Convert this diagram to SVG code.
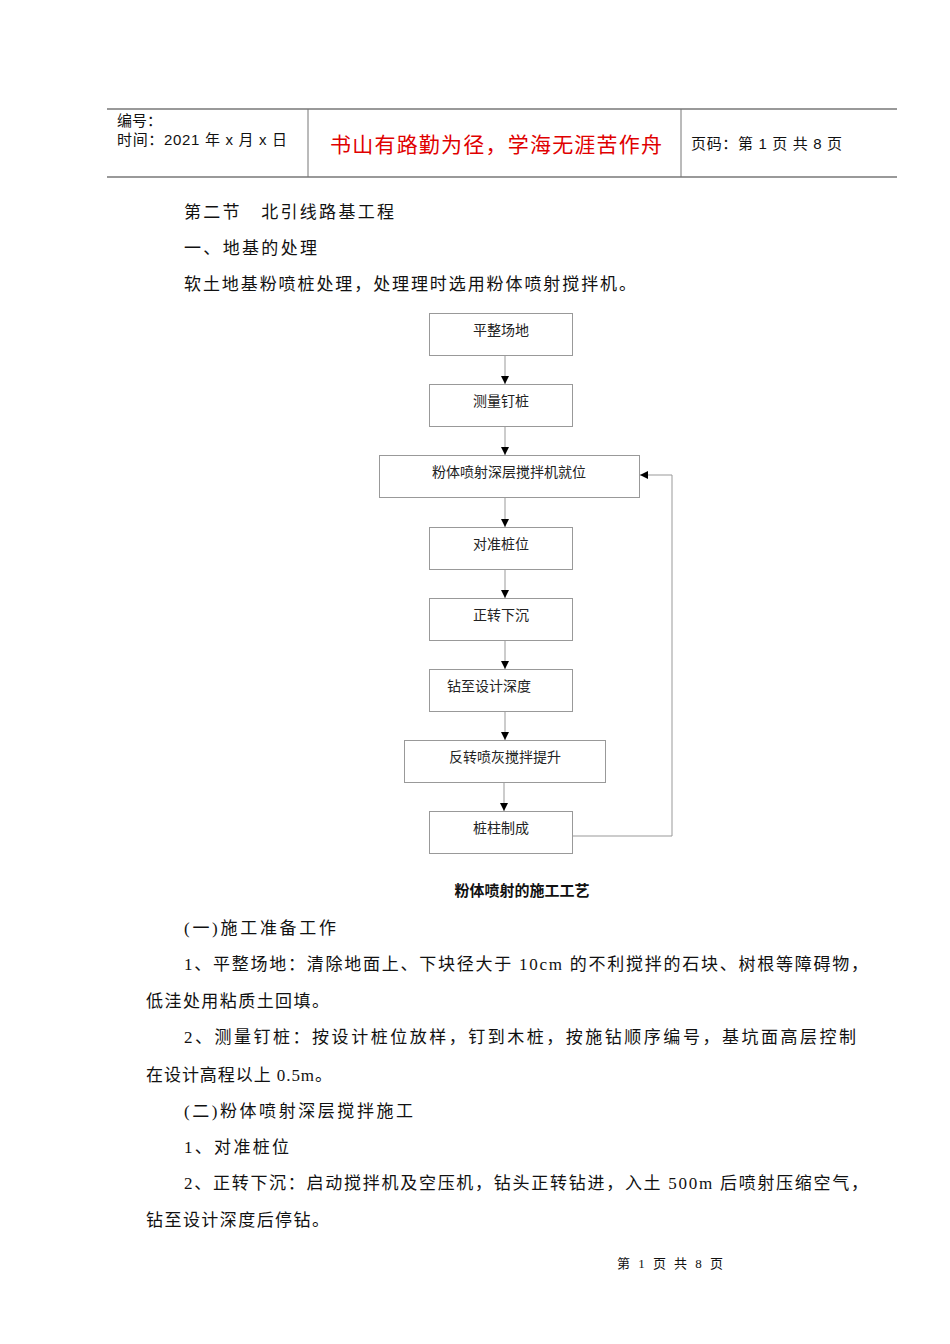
<svg xmlns="http://www.w3.org/2000/svg" width="950" height="1344" viewBox="0 0 950 1344">
<style>
.b{font-family:"Liberation Serif","Noto Sans CJK SC",serif;font-size:17px;fill:#111}
.n{fill:#fff;stroke:#999;stroke-width:1}
.nt{font-family:"Liberation Serif","Noto Sans CJK SC",serif;font-size:14px;fill:#222;text-anchor:middle}
.c{stroke:#999;stroke-width:1;fill:none}
.h{font-family:"Liberation Sans","Noto Sans CJK SC",sans-serif;font-size:15px;fill:#111}
</style>
<defs><marker id="a" markerWidth="8" markerHeight="8" refX="8" refY="4" orient="auto" markerUnits="userSpaceOnUse"><path d="M0,0L8,4L0,8z" fill="#000"/></marker></defs>
<rect width="950" height="1344" fill="#fff"/>
<g id="header">
<line x1="107" y1="109" x2="897" y2="109" stroke="#777" stroke-width="1.5"/>
<line x1="107" y1="177" x2="897" y2="177" stroke="#777" stroke-width="1.5"/>
<line x1="308" y1="109" x2="308" y2="177" stroke="#777"/>
<line x1="681" y1="109" x2="681" y2="177" stroke="#777"/>
<text class="h" x="117" y="126">编号：</text>
<text class="h" x="117" y="145" textLength="170">时间：2021 年 x 月 x 日</text>
<text x="330" y="152" textLength="332" font-family="Liberation Sans,'Noto Sans CJK SC',sans-serif" font-size="21" fill="#e00000">书山有路勤为径，学海无涯苦作舟</text>
<text class="h" x="691" y="149" textLength="151">页码：第 1 页  共 8 页</text>
</g>
<g id="text-top">
<text class="b" x="184" y="218" textLength="210">第二节　北引线路基工程</text>
<text class="b" x="184" y="254" textLength="133">一、地基的处理</text>
<text class="b" x="184" y="290" textLength="452">软土地基粉喷桩处理，处理理时选用粉体喷射搅拌机。</text>
</g>
<g id="connectors">
<line class="c" x1="505" y1="355" x2="505" y2="384" marker-end="url(#a)"/>
<line class="c" x1="505" y1="426" x2="505" y2="455" marker-end="url(#a)"/>
<line class="c" x1="505" y1="497" x2="505" y2="527" marker-end="url(#a)"/>
<line class="c" x1="505" y1="569" x2="505" y2="598" marker-end="url(#a)"/>
<line class="c" x1="505" y1="640" x2="505" y2="669" marker-end="url(#a)"/>
<line class="c" x1="505" y1="711" x2="505" y2="740" marker-end="url(#a)"/>
<line class="c" x1="504" y1="782" x2="504" y2="811" marker-end="url(#a)"/>
<polyline class="c" points="572,836 672,836 672,475 640,475" marker-end="url(#a)"/>
</g>
<g id="n1"><rect class="n" x="429.5" y="313.5" width="143" height="42"/><text class="nt" x="501" y="335">平整场地</text></g>
<g id="n2"><rect class="n" x="429.5" y="384.5" width="143" height="42"/><text class="nt" x="501" y="406">测量钉桩</text></g>
<g id="n3"><rect class="n" x="379.5" y="455.5" width="260" height="42"/><text class="nt" x="509" y="477">粉体喷射深层搅拌机就位</text></g>
<g id="n4"><rect class="n" x="429.5" y="527.5" width="143" height="42"/><text class="nt" x="501" y="549">对准桩位</text></g>
<g id="n5"><rect class="n" x="429.5" y="598.5" width="143" height="42"/><text class="nt" x="501" y="620">正转下沉</text></g>
<g id="n6"><rect class="n" x="429.5" y="669.5" width="143" height="42"/><text class="nt" x="489" y="691">钻至设计深度</text></g>
<g id="n7"><rect class="n" x="404.5" y="740.5" width="201" height="42"/><text class="nt" x="505" y="762">反转喷灰搅拌提升</text></g>
<g id="n8"><rect class="n" x="429.5" y="811.5" width="143" height="42"/><text class="nt" x="501" y="833">桩柱制成</text></g>
<text x="522" y="896" text-anchor="middle" font-family="Liberation Sans,'Noto Sans CJK SC',sans-serif" font-size="15" font-weight="bold" fill="#111">粉体喷射的施工工艺</text>
<g id="text-body">
<text class="b" x="184" y="934" textLength="152">(一)施工准备工作</text>
<text class="b" x="184" y="970" textLength="684">1、平整场地：清除地面上、下块径大于 10cm 的不利搅拌的石块、树根等障碍物，</text>
<text class="b" x="146" y="1007" textLength="183">低洼处用粘质土回填。</text>
<text class="b" x="184" y="1043" textLength="672">2、测量钉桩：按设计桩位放样，钉到木桩，按施钻顺序编号，基坑面高层控制</text>
<text class="b" x="146" y="1081" textLength="186">在设计高程以上 0.5m。</text>
<text class="b" x="184" y="1117" textLength="229">(二)粉体喷射深层搅拌施工</text>
<text class="b" x="184" y="1153" textLength="105">1、对准桩位</text>
<text class="b" x="184" y="1189" textLength="684">2、正转下沉：启动搅拌机及空压机，钻头正转钻进，入土 500m 后喷射压缩空气，</text>
<text class="b" x="146" y="1226" textLength="183">钻至设计深度后停钻。</text>
</g>
<text x="617" y="1268" textLength="106" font-family="Liberation Serif,'Noto Sans CJK SC',serif" font-size="13" fill="#111">第 1 页 共 8 页</text>
</svg>
